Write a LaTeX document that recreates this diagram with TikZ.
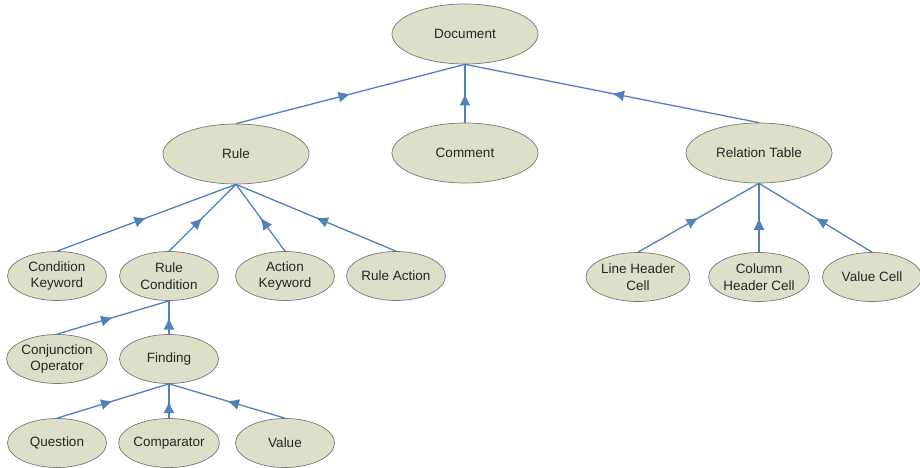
\documentclass[tikz,border=0pt]{standalone}
\usepackage{fontspec}
\setmainfont{Liberation Sans}
\usetikzlibrary{shapes.geometric,arrows.meta,decorations.markings}
\definecolor{linkblue}{RGB}{79,129,189}
\definecolor{nodefill}{RGB}{221,223,200}
\definecolor{nodeedge}{RGB}{120,120,120}
\tikzset{
  concept/.style={ellipse, draw=nodeedge, line width=0.7pt, fill=nodefill,
    inner sep=0pt, align=center, text=black!85,
    font=\fontsize{13.5}{16.5}\selectfont},
  big/.style={concept, minimum width=146pt, minimum height=60pt},
  small/.style={concept, minimum width=99pt, minimum height=49pt},
  link/.style={draw=linkblue, line width=1.3pt,
    postaction={decorate},
    decoration={markings, mark=at position 0.5 with
      {\arrow{Latex[length=12pt,width=11pt]}}}},
}
\begin{document}
\begin{tikzpicture}[x=1pt,y=-1pt,color=linkblue]
\useasboundingbox (0,0) rectangle (920,468);
% top level
\node[big] (doc) at (465,34) {Document};
% second level
\node[big] (rule) at (236,154) {Rule};
\node[big] (comment) at (465,153) {Comment};
\node[big] (reltab) at (759,153) {Relation Table};
% children of Rule
\node[small] (condkw) at (57,276) {Condition\\Keyword};
\node[small] (rulecond) at (169,276) {Rule\\Condition};
\node[small] (actkw) at (285,276) {Action\\Keyword};
\node[small] (ruleact) at (396,276) {Rule Action};
% children of Rule Condition
\node[small] (conj) at (57,359) {Conjunction\\Operator};
\node[small] (finding) at (169,359) {Finding};
% children of Finding
\node[small] (question) at (57,443) {Question};
\node[small] (comparator) at (169,443) {Comparator};
\node[small] (value) at (285,443) {Value};
% children of Relation Table
\node[small] (linehdr) at (638,277) {Line Header\\Cell};
\node[small] (colhdr) at (759,277) {Column\\Header Cell};
\node[small] (valcell) at (872,277) {Value Cell};
% connectors, drawn from child up to parent
\path[link] (rule.north) -- (doc.south);
\path[link] (comment.north) -- (doc.south);
\path[link] (reltab.north) -- (doc.south);
\path[link] (condkw.north) -- (rule.south);
\path[link] (rulecond.north) -- (rule.south);
\path[link] (actkw.north) -- (rule.south);
\path[link] (ruleact.north) -- (rule.south);
\path[link] (conj.north) -- (rulecond.south);
\path[link] (finding.north) -- (rulecond.south);
\path[link] (question.north) -- (finding.south);
\path[link] (comparator.north) -- (finding.south);
\path[link] (value.north) -- (finding.south);
\path[link] (linehdr.north) -- (reltab.south);
\path[link] (colhdr.north) -- (reltab.south);
\path[link] (valcell.north) -- (reltab.south);
\end{tikzpicture}
\end{document}
